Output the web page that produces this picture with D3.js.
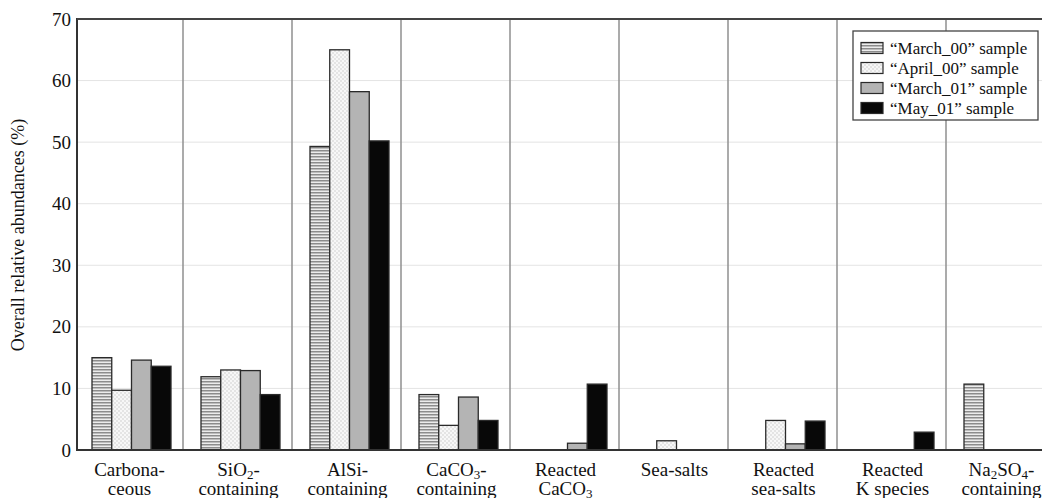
<!DOCTYPE html>
<html>
<head>
<meta charset="utf-8">
<script src="https://cdn.jsdelivr.net/npm/d3@7"></script>
<style>
  body { margin: 0; background: #fff; }
  text { font-family: "Liberation Serif", serif; }
</style>
</head>
<body>
<div id="chart"></div>
<script>
// category labels, "_n" marks a subscript digit
const categories = ["Carbonaceous", "SiO2-containing", "AlSi-containing", "CaCO3-containing",
    "Reacted CaCO3", "Sea-salts", "Reacted sea-salts", "Reacted K species", "Na2SO4-containing"];
const labelLines = [
    ["Carbona-", "ceous"],
    ["SiO_2-", "containing"],
    ["AlSi-", "containing"],
    ["CaCO_3-", "containing"],
    ["Reacted", "CaCO_3"],
    ["Sea-salts"],
    ["Reacted", "sea-salts"],
    ["Reacted", "K species"],
    ["Na_2SO_4-", "containing"]
];
const seriesNames = ["\u201cMarch_00\u201d sample", "\u201cApril_00\u201d sample", "\u201cMarch_01\u201d sample", "\u201cMay_01\u201d sample"];
const march00 = [15.0, 11.9, 49.3, 9.0, 0, 0, 0, 0, 10.7];
const april00 = [9.7, 13.0, 65.0, 4.0, 0, 1.5, 4.8, 0, 0];
const march01 = [14.6, 12.9, 58.2, 8.6, 1.1, 0, 1.0, 0, 0];
const may01 = [13.6, 9.0, 50.2, 4.8, 10.7, 0, 4.7, 2.9, 0];
const yTicks = [0, 10, 20, 30, 40, 50, 60, 70];

const allSeries = [march00, april00, march01, may01];
const fills = ["url(#hstripe)", "url(#dots)", "#b4b4b4", "#080808"];
const serif = "'Liberation Serif', 'Times New Roman', serif";

const W = 1042, H = 498;
const plotLeft = 77, plotTop = 19, plotBottom = 450;

const svg = d3.select("#chart").append("svg")
    .attr("width", W)
    .attr("height", H)
    .style("display", "block");

// patterns
const defs = svg.append("defs");
const ps = defs.append("pattern").attr("id", "hstripe")
    .attr("patternUnits", "userSpaceOnUse").attr("width", 6).attr("height", 3);
ps.append("rect").attr("width", 6).attr("height", 3).attr("fill", "#ececec");
ps.append("rect").attr("width", 6).attr("height", 1.5).attr("fill", "#8c8c8c");

const pd = defs.append("pattern").attr("id", "dots")
    .attr("patternUnits", "userSpaceOnUse").attr("width", 4).attr("height", 4);
pd.append("rect").attr("width", 4).attr("height", 4).attr("fill", "#f7f7f7");
pd.append("circle").attr("cx", 1).attr("cy", 1).attr("r", 0.7).attr("fill", "#c4c4c4");
pd.append("circle").attr("cx", 3).attr("cy", 3).attr("r", 0.7).attr("fill", "#c4c4c4");

// scales
const x = d3.scaleBand()
    .domain(categories)
    .range([74, 1055])
    .padding(0);

const xSub = d3.scaleBand()
    .domain(d3.range(allSeries.length))
    .range([18, 97]);

const y = d3.scaleLinear()
    .domain([0, 70])
    .range([plotBottom, plotTop]);

// faint gridlines
svg.append("g")
    .selectAll("line")
    .data(yTicks.filter(t => t > 0 && t < 70))
    .enter().append("line")
    .attr("x1", plotLeft).attr("x2", W)
    .attr("y1", d => y(d)).attr("y2", d => y(d))
    .style("stroke", "#e4e4e4")
    .style("stroke-width", 1);

// category separators
svg.append("g")
    .selectAll("line")
    .data(categories.slice(1))
    .enter().append("line")
    .attr("x1", d => x(d)).attr("x2", d => x(d))
    .attr("y1", plotTop).attr("y2", plotBottom)
    .style("stroke", "#8f8f8f")
    .style("stroke-width", 1.5);

// bars
allSeries.forEach((vals, s) => {
    svg.append("g")
        .selectAll("rect")
        .data(vals.map((v, i) => ({ cat: categories[i], v: v })).filter(d => d.v > 0))
        .enter().append("rect")
        .attr("x", d => x(d.cat) + xSub(s))
        .attr("y", d => y(d.v))
        .attr("width", xSub.bandwidth())
        .attr("height", d => y(0) - y(d.v))
        .style("fill", fills[s])
        .style("stroke", "#2a2a2a")
        .style("stroke-width", 1.3);
});

// y axis labels
const yAxis = d3.axisLeft(y).tickValues(yTicks).tickSize(0).tickPadding(6);
const gy = svg.append("g")
    .attr("transform", `translate(${plotLeft},0)`)
    .call(yAxis);
gy.select(".domain").remove();
gy.selectAll("text")
    .style("font-family", serif)
    .style("font-size", "19px")
    .style("fill", "#111");

// frame: left axis, top border, baseline
svg.append("line")
    .attr("x1", plotLeft).attr("x2", plotLeft)
    .attr("y1", plotTop - 1).attr("y2", plotBottom + 1)
    .style("stroke", "#333").style("stroke-width", 2);
svg.append("line")
    .attr("x1", plotLeft).attr("x2", W)
    .attr("y1", plotTop).attr("y2", plotTop)
    .style("stroke", "#444").style("stroke-width", 2);
svg.append("line")
    .attr("x1", plotLeft - 1).attr("x2", W)
    .attr("y1", plotBottom).attr("y2", plotBottom)
    .style("stroke", "#333").style("stroke-width", 2);

// y title
svg.append("text")
    .attr("transform", "translate(24,235) rotate(-90)")
    .attr("text-anchor", "middle")
    .style("font-family", serif)
    .style("font-size", "18px")
    .style("fill", "#111")
    .text("Overall relative abundances (%)");

// text line with subscript digits
function writeLine(textSel, str) {
    const parts = str.split(/_(\d)/);
    parts.forEach((p, i) => {
        if (p === "") return;
        const ts = textSel.append("tspan").text(p);
        if (i % 2 === 1) {
            ts.attr("baseline-shift", "-3").style("font-size", "13px");
        }
    });
}

const labels = svg.append("g");
categories.forEach((c, i) => {
    labelLines[i].forEach((line, j) => {
        const t = labels.append("text")
            .attr("x", x(c) + x.bandwidth() / 2 + 1)
            .attr("y", 476 + j * 19)
            .attr("text-anchor", "middle")
            .style("font-family", serif)
            .style("font-size", "19px")
            .style("fill", "#111");
        writeLine(t, line);
    });
});

// legend
const legend = svg.append("g");
legend.append("rect")
    .attr("x", 853).attr("y", 31)
    .attr("width", 185).attr("height", 89)
    .style("fill", "#fff")
    .style("stroke", "#444")
    .style("stroke-width", 1.3);

seriesNames.forEach((name, s) => {
    const cy = 48 + s * 20;
    legend.append("rect")
        .attr("x", 861).attr("y", cy - 5.5)
        .attr("width", 22).attr("height", 11)
        .style("fill", fills[s])
        .style("stroke", "#2a2a2a")
        .style("stroke-width", 1.2);
    legend.append("text")
        .attr("x", 890).attr("y", cy)
        .attr("dy", "0.35em")
        .style("font-family", serif)
        .style("font-size", "17px")
        .style("fill", "#111")
        .text(name);
});
</script>
</body>
</html>
